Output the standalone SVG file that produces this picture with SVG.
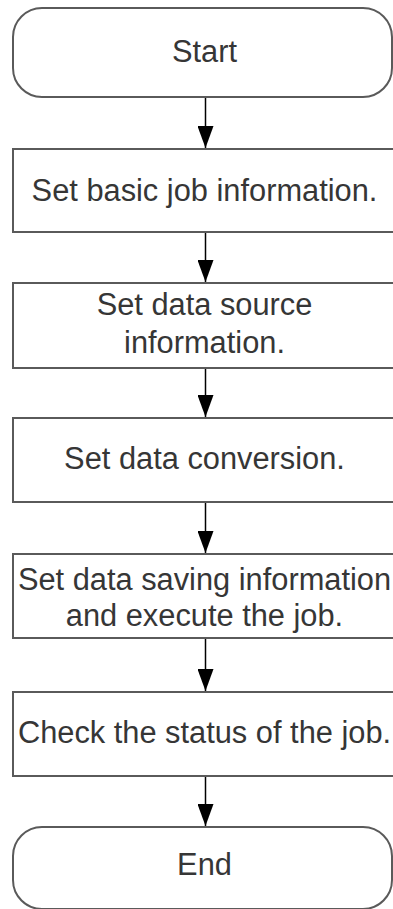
<svg xmlns="http://www.w3.org/2000/svg" width="393" height="909" viewBox="0 0 393 909">
  <defs>
    <style>
      .box { fill: #ffffff; stroke: #5a5a5a; stroke-width: 2; }
      .lbl { font-family: "Liberation Sans", Arial, sans-serif; font-size: 30.8px; fill: #363636; text-anchor: middle; }
      .conn { stroke: #000000; stroke-width: 1.5; fill: none; marker-end: url(#arrow); }
    </style>
    <marker id="arrow" markerUnits="userSpaceOnUse" markerWidth="22" markerHeight="16" refX="22" refY="8" orient="auto" viewBox="0 0 22 16">
      <path d="M0,0 L22,8 L0,16 Z" fill="#000000"/>
    </marker>
  </defs>
  <rect width="393" height="909" fill="#ffffff"/>
  <g id="connectors">
    <line class="conn" x1="205.5" y1="97" x2="205.5" y2="148"/>
    <line class="conn" x1="205.5" y1="232" x2="205.5" y2="282"/>
    <line class="conn" x1="205.5" y1="368" x2="205.5" y2="417"/>
    <line class="conn" x1="205.5" y1="502" x2="205.5" y2="553"/>
    <line class="conn" x1="205.5" y1="638" x2="205.5" y2="691"/>
    <line class="conn" x1="205.5" y1="776" x2="205.5" y2="826"/>
  </g>
  <g id="start">
    <rect class="box" x="13" y="8" width="379" height="89" rx="29" ry="29"/>
    <text class="lbl" x="204.5" y="62">Start</text>
  </g>
  <g id="step1">
    <rect class="box" x="13" y="149" width="385" height="83"/>
    <text class="lbl" x="204.5" y="201">Set basic job information.</text>
  </g>
  <g id="step2">
    <rect class="box" x="13" y="283" width="385" height="85"/>
    <text class="lbl" x="204.5" y="315">Set data source</text>
    <text class="lbl" x="204.5" y="353">information.</text>
  </g>
  <g id="step3">
    <rect class="box" x="13" y="418" width="385" height="84"/>
    <text class="lbl" x="204.5" y="469">Set data conversion.</text>
  </g>
  <g id="step4">
    <rect class="box" x="13" y="554" width="385" height="84"/>
    <text class="lbl" x="204.5" y="590">Set data saving information</text>
    <text class="lbl" x="204.5" y="626">and execute the job.</text>
  </g>
  <g id="step5">
    <rect class="box" x="13" y="692" width="385" height="84"/>
    <text class="lbl" x="204.5" y="743">Check the status of the job.</text>
  </g>
  <g id="end">
    <rect class="box" x="13" y="827" width="379" height="82" rx="29" ry="29"/>
    <text class="lbl" x="204.5" y="875">End</text>
  </g>
</svg>
